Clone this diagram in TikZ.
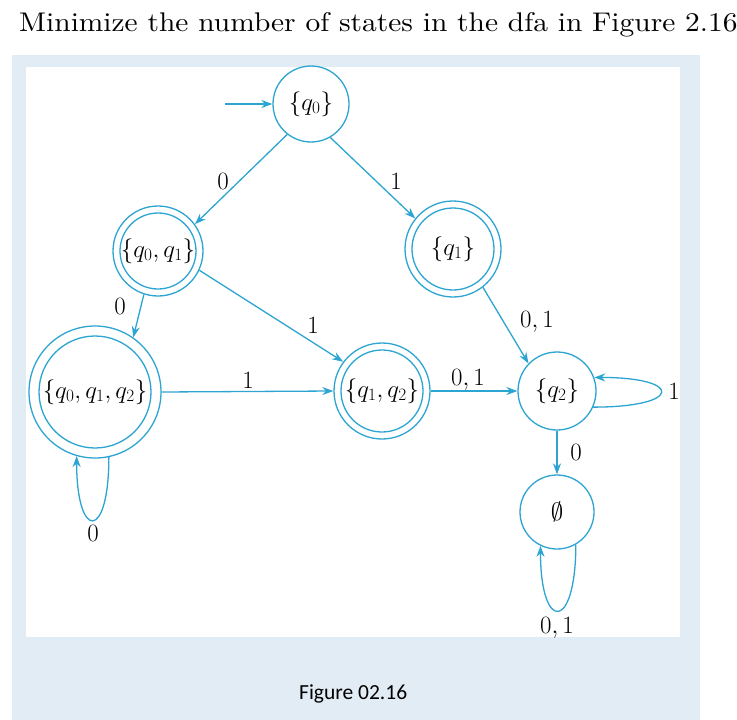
\documentclass[tikz,border=0pt]{standalone}
\usepackage{graphicx}
\usepackage{fontspec}
\newfontfamily\carlito{Carlito}
\usetikzlibrary{arrows.meta}
\definecolor{edgecol}{RGB}{45,165,210}
\definecolor{panelcol}{RGB}{226,236,244}
\begin{document}
\begin{tikzpicture}[x=1pt,y=-1pt,
  state/.style={circle,draw=edgecol,line width=1.3pt,inner sep=0pt,font=\fontsize{23.5}{28}\selectfont},
  inring/.style={draw=edgecol,line width=1.3pt},
  edge/.style={draw=edgecol,line width=1.3pt,-{Stealth[length=11pt,width=8pt]}},
  lbl/.style={font=\fontsize{23.5}{28}\selectfont,inner sep=0pt}]
\useasboundingbox (0,0) rectangle (737,720);
\fill[panelcol] (12,55) rectangle (700,720);
\fill[white] (26,67) rectangle (680,637);
\node[anchor=base west,inner sep=0pt] (title) at (19,31) {\scalebox{2.945}[2.7]{Minimize the number of states in the dfa in Figure 2.16}};
\node[anchor=base west,inner sep=0pt,font=\carlito\fontsize{21.5}{26}\selectfont] (cap) at (299,699) {Figure 02.16};

\node[state,minimum size=76pt] (q0) at (311,104) {$\{q_0\}$};
\node[state,minimum size=90pt] (A) at (158,251) {$\{q_0, q_1\}$};
\draw[inring] (A.center) circle[radius=38pt];
\node[state,minimum size=96pt] (B) at (453,249) {$\{q_1\}$};
\draw[inring] (B.center) circle[radius=41pt];
\node[state,minimum size=132pt] (C) at (95,392) {$\{q_0, q_1, q_2\}$};
\draw[inring] (C.center) circle[radius=56pt];
\node[state,minimum size=96pt] (D) at (382,391) {$\{q_1, q_2\}$};
\draw[inring] (D.center) circle[radius=41pt];
\node[state,minimum size=78pt] (E) at (557,391) {$\{q_2\}$};
\node[state,minimum size=74pt] (F) at (557,512) {$\emptyset$};

\coordinate (s) at (225,104);
\draw[edge] (s) -- (q0.180);
\draw[edge] (q0.232) -- (A.36) node[lbl] at (223,181) {$0$};
\draw[edge] (q0.300) -- (B.141) node[lbl] at (396,181) {$1$};
\draw[edge] (A.252) -- (C.55) node[lbl] at (120,306) {$0$};
\draw[edge] (A.335) -- (D.143) node[lbl] at (313,325) {$1$};
\draw[edge] (B.308) -- (E.136) node[lbl] at (537,322) {$0, 1$};
\draw[edge] (C.0) -- (D.180) node[lbl] at (248,380) {$1$};
\draw[edge] (D.0) -- (E.180) node[lbl] at (468,380) {$0, 1$};
\draw[edge] (E.336) to[out=0,in=0,looseness=7.7] (E.20);
\node[lbl] (l1) at (674,391) {$1$};
\draw[edge] (E.270) -- (F.90) node[lbl] at (576,452) {$0$};
\draw[edge] (F.300) to[out=-90,in=-90,looseness=6.3] (F.244);
\node[lbl] (l2) at (557,628) {$0, 1$};
\draw[edge] (C.282) to[out=-90,in=-90,looseness=6.7] (C.254);
\node[lbl] (l3) at (93,533) {$0$};
\end{tikzpicture}
\end{document}
